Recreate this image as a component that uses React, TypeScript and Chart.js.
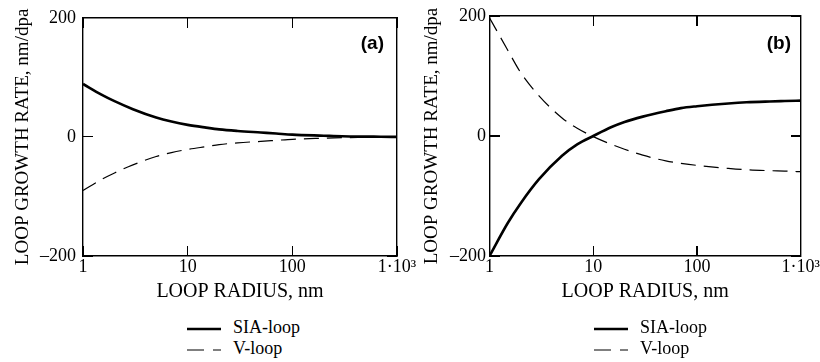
import React, { useEffect, useRef, useState } from 'react';
import { Chart, registerables } from 'chart.js';

Chart.register(...registerables);

// ---- data ----
const radius = [1, 1.5, 2, 3, 5, 7, 10, 15, 20, 30, 50, 70, 100, 200, 300, 500, 700, 1000];
const siaA = [89, 71, 60, 46.5, 32.5, 25.7, 20.2, 15.6, 12.7, 10, 7.4, 5.7, 3.8, 2, 1, 0.5, 0.3, 0];
const vA = [-90, -71.5, -60.5, -47, -33, -26.3, -21, -16.3, -13, -10, -7.5, -5.8, -4, -2.2, -1.3, -0.8, -0.5, -0.3];
const siaB = [-200, -145, -112, -72, -33, -14, 0, 15, 23.5, 32.3, 41.3, 46.5, 49.6, 54.2, 56.2, 57.6, 58.3, 59];
const vB = [197, 143, 105.5, 67, 30, 13, -1, -14, -22, -32, -41.5, -45.5, -49, -54, -56.3, -57.8, -58.5, -59.5];
const xTicks = [1, 10, 100, 1000];
const xTickLabels = ['1', '10', '100', '1·10³'];
const yTicks = [-200, 0, 200];
const yTickLabels = ['–200', '0', '200'];
const seriesNames = ['SIA-loop', 'V-loop'];
const panelNames = ['(a)', '(b)'];
const xTitle = 'LOOP RADIUS, nm';
const yTitle = 'LOOP GROWTH RATE, nm/dpa';

const SERIF = '"Liberation Serif", "Times New Roman", serif';
const INK = '#000';
const TICK_LEN = 10;
const TICK_W = 1.2;

type TickBox = { left: number; top: number; width: number; height: number };

// inward tick marks, placed from the chart's own scales
function collectTicks(chart: any, offsetX: number): TickBox[] {
  const out: TickBox[] = [];
  const area = chart.chartArea;
  const sx = chart.scales.x;
  const sy = chart.scales.y;
  if (!area || !sx || !sy) return out;
  for (const v of xTicks) {
    const px = sx.getPixelForValue(v);
    if (!isFinite(px)) continue;
    out.push({ left: px - TICK_W / 2 + offsetX, top: area.bottom - TICK_LEN, width: TICK_W, height: TICK_LEN });
    out.push({ left: px - TICK_W / 2 + offsetX, top: area.top, width: TICK_W, height: TICK_LEN });
  }
  for (const v of yTicks) {
    const py = sy.getPixelForValue(v);
    if (!isFinite(py)) continue;
    out.push({ left: area.left + offsetX, top: py - TICK_W / 2, width: TICK_LEN, height: TICK_W });
    out.push({ left: area.right - TICK_LEN + offsetX, top: py - TICK_W / 2, width: TICK_LEN, height: TICK_W });
  }
  return out;
}

type PanelOpts = { yWidth: number; padRight: number; yTickPad: number; yTitlePad: number };

function buildConfig(sia: number[], v: number[], p: PanelOpts): any {
  const grid = { display: false, drawOnChartArea: false, drawTicks: false };
  const border = { display: true, color: INK, width: 1.4 };
  const setX = (s: any) => {
    s.ticks = xTicks.map((value) => ({ value }));
  };
  const setY = (s: any) => {
    s.ticks = yTicks.map((value) => ({ value }));
  };
  return {
    type: 'line',
    data: {
      datasets: [
        {
          label: seriesNames[0],
          data: radius.map((r, i) => ({ x: r, y: sia[i] })),
          borderColor: INK,
          borderWidth: 2.6,
          pointRadius: 0,
          cubicInterpolationMode: 'monotone',
          fill: false,
        },
        {
          label: seriesNames[1],
          data: radius.map((r, i) => ({ x: r, y: v[i] })),
          borderColor: INK,
          borderWidth: 1.2,
          borderDash: [15, 8],
          pointRadius: 0,
          cubicInterpolationMode: 'monotone',
          fill: false,
        },
      ],
    },
    options: {
      responsive: false,
      animation: false,
      events: [],
      layout: { padding: { left: 0, right: p.padRight, top: 16, bottom: 0 } },
      plugins: { legend: { display: false }, tooltip: { enabled: false } },
      scales: {
        x: {
          type: 'logarithmic',
          position: 'bottom',
          min: 1,
          max: 1000,
          afterBuildTicks: setX,
          ticks: {
            callback: (val: number) => xTickLabels[xTicks.indexOf(val)] ?? '',
            font: { family: SERIF, size: 18 },
            color: INK,
            padding: 0,
            maxRotation: 0,
            autoSkip: false,
          },
          grid,
          border,
          title: {
            display: true,
            text: xTitle,
            font: { family: SERIF, size: 20 },
            color: INK,
            padding: { top: 0, bottom: 6 },
          },
          afterFit: (s: any) => {
            s.height = 54;
          },
        },
        x2: {
          type: 'logarithmic',
          axis: 'x',
          position: 'top',
          min: 1,
          max: 1000,
          afterBuildTicks: setX,
          ticks: { display: false },
          grid,
          border,
          afterFit: (s: any) => {
            s.height = 0;
          },
        },
        y: {
          type: 'linear',
          position: 'left',
          min: -200,
          max: 200,
          afterBuildTicks: setY,
          ticks: {
            callback: (val: number) => yTickLabels[yTicks.indexOf(val)] ?? '',
            font: { family: SERIF, size: 18 },
            color: INK,
            padding: p.yTickPad,
            autoSkip: false,
          },
          grid,
          border,
          title: {
            display: true,
            text: yTitle,
            font: { family: SERIF, size: 19 },
            color: INK,
            padding: { top: p.yTitlePad, bottom: 0 },
          },
          afterFit: (s: any) => {
            s.width = p.yWidth;
          },
        },
        y2: {
          type: 'linear',
          axis: 'y',
          position: 'right',
          min: -200,
          max: 200,
          afterBuildTicks: setY,
          ticks: { display: false },
          grid,
          border,
          afterFit: (s: any) => {
            s.width = 0;
          },
        },
      },
    },
  };
}

function LegendBlock({ lineLeft, textLeft }: { lineLeft: number; textLeft: number }) {
  const rows = [
    { y: 329, dash: undefined as string | undefined, w: 2.6 },
    { y: 349.5, dash: '17 9', w: 1.2 },
  ];
  return (
    <>
      {rows.map((r, i) => (
        <React.Fragment key={i}>
          <svg
            width={34}
            height={6}
            style={{ position: 'absolute', left: lineLeft, top: r.y - 3 }}
          >
            <line x1={0} y1={3} x2={34} y2={3} stroke={INK} strokeWidth={r.w} strokeDasharray={r.dash} />
          </svg>
          <span
            style={{
              position: 'absolute',
              left: textLeft,
              top: r.y - 12,
              lineHeight: '20px',
              fontFamily: SERIF,
              fontSize: 18,
              color: INK,
              whiteSpace: 'nowrap',
            }}
          >
            {seriesNames[i]}
          </span>
        </React.Fragment>
      ))}
    </>
  );
}

export default function App() {
  const leftRef = useRef<HTMLCanvasElement>(null);
  const rightRef = useRef<HTMLCanvasElement>(null);
  const [ticks, setTicks] = useState<TickBox[]>([]);

  useEffect(() => {
    const a = new Chart(
      leftRef.current as HTMLCanvasElement,
      buildConfig(siaA, vA, { yWidth: 83, padRight: 28, yTickPad: 7, yTitlePad: 11.5 })
    );
    const b = new Chart(
      rightRef.current as HTMLCanvasElement,
      buildConfig(siaB, vB, { yWidth: 79.5, padRight: 16, yTickPad: 3.5, yTitlePad: 10.6 })
    );
    setTicks([...collectTicks(a, 0), ...collectTicks(b, 410)]);
    return () => {
      a.destroy();
      b.destroy();
    };
  }, []);

  const panelLabel = (text: string, right: number) => (
    <div
      style={{
        position: 'absolute',
        left: right - 40,
        width: 40,
        textAlign: 'right',
        top: 31,
        lineHeight: '24px',
        fontFamily: '"Liberation Sans", Arial, sans-serif',
        fontWeight: 'bold',
        fontSize: 19,
        color: INK,
      }}
    >
      {text}
    </div>
  );

  return (
    <div
      style={{
        position: 'absolute',
        left: 0,
        top: 0,
        width: 820,
        height: 362,
        background: '#fff',
        overflow: 'hidden',
      }}
    >
      <canvas
        ref={leftRef}
        width={425}
        height={310}
        style={{ position: 'absolute', left: 0, top: 0, width: 425, height: 310 }}
      />
      <canvas
        ref={rightRef}
        width={410}
        height={310}
        style={{ position: 'absolute', left: 410, top: 0, width: 410, height: 310 }}
      />
      {ticks.map((t, i) => (
        <div
          key={i}
          style={{
            position: 'absolute',
            left: t.left,
            top: t.top,
            width: t.width,
            height: t.height,
            background: INK,
          }}
        />
      ))}
      {panelLabel(panelNames[0], 384)}
      {panelLabel(panelNames[1], 791)}
      <LegendBlock lineLeft={187} textLeft={233} />
      <LegendBlock lineLeft={594} textLeft={640} />
    </div>
  );
}
